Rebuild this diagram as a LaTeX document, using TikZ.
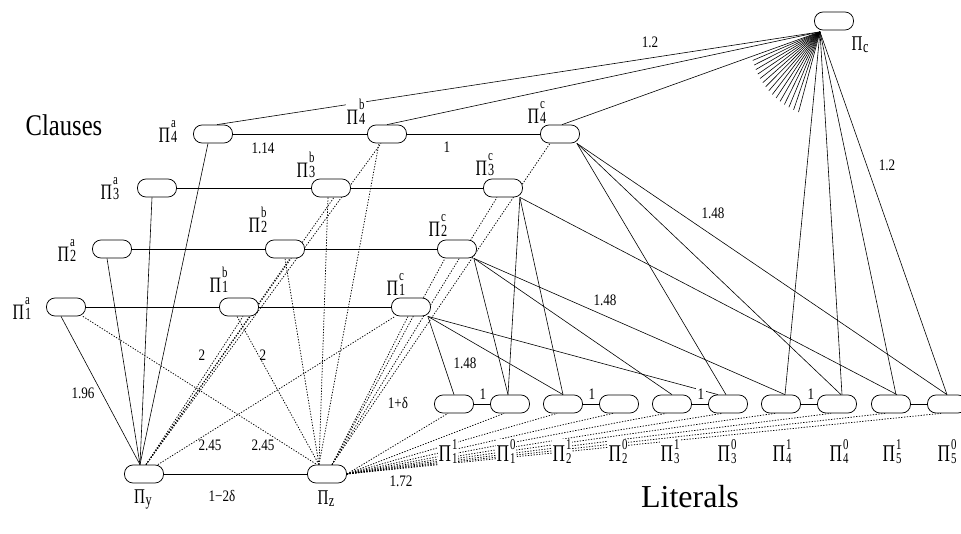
\documentclass[tikz,border=0pt]{standalone}
\usepackage{fontspec}
\setmainfont{Liberation Serif}
\newfontfamily\cf[FakeStretch=0.82]{Liberation Serif}
\newfontfamily\pif[FakeStretch=0.72]{Liberation Serif}
\usetikzlibrary{backgrounds}
\newcommand\CL[2]{\hbox{\pif\fontsize{22}{22}\selectfont Π\kern1pt\vbox{\baselineskip=15pt\lineskiplimit=-30pt\hbox{\fontsize{15}{15}\selectfont #1}\hbox{\fontsize{17}{17}\selectfont #2}}}}
\newcommand\LL[2]{\hbox{\pif\fontsize{24}{24}\selectfont Π\kern1pt\lower2.5pt\vbox{\baselineskip=14pt\lineskiplimit=-30pt\hbox{\fontsize{15}{15}\selectfont #1}\hbox{\fontsize{15}{15}\selectfont #2}}}}
\newcommand\SL[1]{\hbox{\pif\fontsize{21}{21}\selectfont Π\kern0.5pt\lower2pt\hbox{\fontsize{17}{17}\selectfont #1}}}
\begin{document}
\begin{tikzpicture}[x=1pt,y=-1pt,
  box/.style={draw, fill=white, rounded corners=8.5pt, minimum width=39pt, minimum height=18pt, inner sep=0pt, line width=0.75pt},
  ln/.style={line width=0.6pt},
  dl/.style={line width=0.75pt, dash pattern=on 1.3pt off 1.5pt},
  num/.style={font=\cf\fontsize{16}{16}\selectfont, inner sep=0.5pt},
  pl/.style={fill=white, inner sep=1pt},
  big/.style={font=\cf\fontsize{30}{30}\selectfont, inner sep=0pt}]
\useasboundingbox (0,0) rectangle (961,533);
% clause boxes
\node[box] (a4) at (213,134) {};
\node[box] (b4) at (387,134) {};
\node[box] (c4) at (560,134) {};
\node[box] (a3) at (157,188) {};
\node[box] (b3) at (331,188) {};
\node[box] (c3) at (503,188) {};
\node[box] (a2) at (112,249) {};
\node[box] (b2) at (285,249) {};
\node[box] (c2) at (457,249) {};
\node[box] (a1) at (66,307) {};
\node[box] (b1) at (239,307) {};
\node[box] (c1) at (411,307) {};
\node[box] (ny) at (144,474) {};
\node[box] (nz) at (327,474) {};
\node[box] (pc) at (834,21) {};
% literal boxes
\node[box] (L11) at (454,404) {};
\node[box] (L10) at (510,404) {};
\node[box] (L21) at (563,404) {};
\node[box] (L20) at (619,404) {};
\node[box] (L31) at (672,404) {};
\node[box] (L30) at (728,404) {};
\node[box] (L41) at (781,404) {};
\node[box] (L40) at (837,404) {};
\node[box] (L51) at (891,404) {};
\node[box] (L50) at (947,404) {};
\coordinate (pcb) at ([xshift=-14pt,yshift=-1.5pt]pc.south);
\begin{pgfonlayer}{background}
% horizontal clause links
\foreach \i in {1,...,4}{
  \draw[ln] (a\i.east) -- (b\i.west);
  \draw[ln] (b\i.east) -- (c\i.west);
  \draw[ln] ([xshift=-5pt]a\i.south) -- ([xshift=-4pt]ny.north);
}
\draw[ln] (ny.east) -- (nz.west);
\foreach \i in {1,...,5}{ \draw[ln] (L\i1.east) -- (L\i0.west); }
% Pi_c edges
\draw[ln] (pcb) -- ([xshift=4pt]a4.north);
\draw[ln] (pcb) -- (b4.north);
\draw[ln] (pcb) -- ([xshift=2pt]c4.north);
\draw[ln] (pcb) -- ([xshift=4pt]L41.north);
\draw[ln] (pcb) -- ([xshift=5pt]L40.north);
\draw[ln] (pcb) -- ([xshift=5pt]L51.north);
\draw[ln] (pcb) -- (L50.north);
\foreach \k in {0,...,14}{
  \pgfmathsetmacro\ang{157-52*\k/14}
  \pgfmathsetmacro\rr{73+10*\k/14}
  \coordinate (s\k) at ([shift={(\ang:\rr)}]pcb);
  \draw[ln] (pcb) -- (s\k);
}
% clause c to literals
\draw[ln] ([xshift=-3pt]c1.south east) -- (L11.north);
\draw[ln] ([xshift=-3pt]c1.south east) -- (L21.north);
\draw[ln] ([xshift=-3pt]c1.south east) -- ([xshift=-10pt]L30.north);
\draw[ln] ([xshift=-3pt]c2.south east) -- ([xshift=-2pt]L10.north);
\draw[ln] ([xshift=-3pt]c2.south east) -- (L31.north);
\draw[ln] ([xshift=-3pt]c2.south east) -- ([xshift=4pt]L41.north);
\draw[ln] ([xshift=-3pt]c3.south east) -- ([xshift=-2pt]L10.north);
\draw[ln] ([xshift=-3pt]c3.south east) -- (L21.north);
\draw[ln] ([xshift=-3pt]c3.south east) -- ([xshift=6pt]L51.north);
\draw[ln] ([xshift=-3pt]c4.south east) -- ([xshift=-2pt]L30.north);
\draw[ln] ([xshift=-3pt]c4.south east) -- ([xshift=4pt]L40.north);
\draw[ln] ([xshift=-3pt]c4.south east) -- (L50.north);
% dotted
\draw[dl] ([xshift=-3pt]a1.south east) -- ([xshift=-10pt]nz.north);
\draw[dl] ([xshift=-6pt]ny.north east) -- ([xshift=4pt]c1.south west);
\draw[dl] ([xshift=2pt]ny.north) -- ([xshift=4pt]b1.south);
\draw[dl] ([xshift=2pt]ny.north) -- ([xshift=5pt]b2.south);
\draw[dl] ([xshift=2pt]ny.north) -- ([xshift=3pt]b3.south);
\draw[dl] ([xshift=2pt]ny.north) -- ([xshift=-6pt]b4.south);
\draw[dl] ([xshift=-8pt]nz.north) -- ([xshift=-2pt]b1.south);
\draw[dl] ([xshift=-8pt]nz.north) -- (b2.south);
\draw[dl] ([xshift=-8pt]nz.north) -- ([xshift=-3pt]b3.south);
\draw[dl] ([xshift=-8pt]nz.north) -- ([xshift=-8pt]b4.south);
\draw[dl] ([xshift=5pt]nz.north) -- ([xshift=-3pt]c1.south);
\draw[dl] ([xshift=5pt]nz.north) -- ([xshift=-12pt]c2.south);
\draw[dl] ([xshift=5pt]nz.north) -- ([xshift=-6pt]c3.south);
\draw[dl] ([xshift=5pt]nz.north) -- ([xshift=-10pt]c4.south);
\foreach \n in {L11,L10,L21,L20,L31,L30,L41,L40,L51,L50}{
  \draw[dl] (nz.east) -- ([xshift=-6pt]\n.south);
}
\end{pgfonlayer}
% node labels
\node[pl] (la4) at (168,131) {\CL{a}{4}};
\node[pl] (lb4) at (356,112) {\CL{b}{4}};
\node[pl] (lc4) at (537,112) {\CL{c}{4}};
\node[pl] (la3) at (110,189) {\CL{a}{3}};
\node[pl] (lb3) at (306,165) {\CL{b}{3}};
\node[pl] (lc3) at (485,165) {\CL{c}{3}};
\node[pl] (la2) at (67,250) {\CL{a}{2}};
\node[pl] (lb2) at (258,220) {\CL{b}{2}};
\node[pl] (lc2) at (438,225) {\CL{c}{2}};
\node[pl] (la1) at (22,308) {\CL{a}{1}};
\node[pl] (lb1) at (219,280) {\CL{b}{1}};
\node[pl] (lc1) at (396,284) {\CL{c}{1}};
\node[pl] (lny) at (143,499) {\SL{y}};
\node[pl] (lnz) at (326,499) {\SL{z}};
\node[pl] (lpc) at (860,45) {\SL{c}};
\node[pl] (lL11) at (448,452) {\LL{1}{1}};
\node[pl] (lL10) at (506,452) {\LL{0}{1}};
\node[pl] (lL21) at (562,452) {\LL{1}{2}};
\node[pl] (lL20) at (618,452) {\LL{0}{2}};
\node[pl] (lL31) at (670,452) {\LL{1}{3}};
\node[pl] (lL30) at (727,452) {\LL{0}{3}};
\node[pl] (lL41) at (782,452) {\LL{1}{4}};
\node[pl] (lL40) at (839,452) {\LL{0}{4}};
\node[pl] (lL51) at (892,452) {\LL{1}{5}};
\node[pl] (lL50) at (947,452) {\LL{0}{5}};
% edge labels
\node[num] (w1) at (650,42) {1.2};
\node[num] (w2) at (263,148) {1.14};
\node[num] (w3) at (447,147) {1};
\node[num] (w4) at (713,213) {1.48};
\node[num] (w5) at (887,165) {1.2};
\node[num] (w6) at (605,300) {1.48};
\node[num] (w7) at (465,363) {1.48};
\node[num] (w8) at (83,393) {1.96};
\node[num] (w9) at (202,355) {2};
\node[num] (w10) at (263,355) {2};
\node[num] (w11) at (210,445) {2.45};
\node[num] (w12) at (263,445) {2.45};
\node[num] (w13) at (398,403) {1+δ};
\node[num] (w14) at (222,496) {1−2δ};
\node[num] (w15) at (401,481) {1.72};
\node[num,fill=white,inner sep=1.5pt] (p1) at (483,394) {1};
\node[num,fill=white,inner sep=1.5pt] (p2) at (592,394) {1};
\node[num,fill=white,inner sep=1.5pt] (p3) at (701,394) {1};
\node[num,fill=white,inner sep=1.5pt] (p4) at (811,394) {1};
% titles
\node[big] (tc) at (64,125) {Clauses};
\node[font=\fontsize{32}{32}\selectfont, inner sep=0pt] (tl) at (690,497) {Literals};
\end{tikzpicture}
\end{document}
